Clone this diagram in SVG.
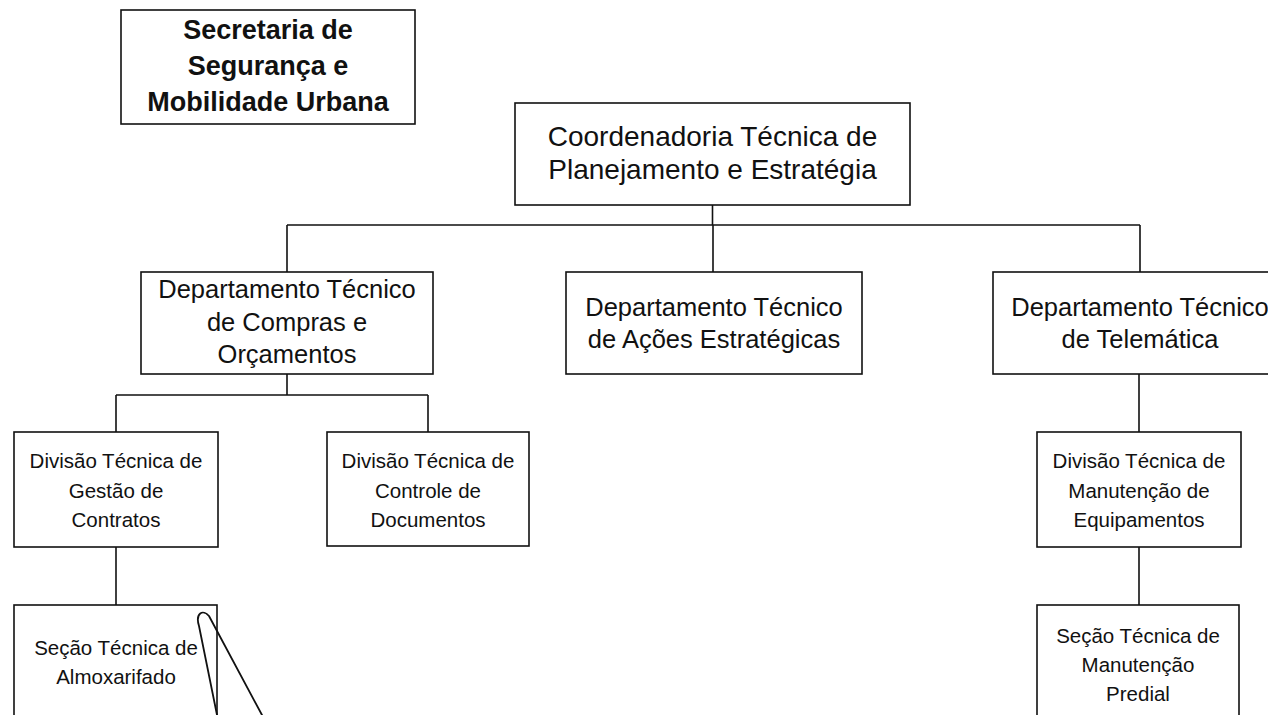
<svg xmlns="http://www.w3.org/2000/svg" width="1268" height="715" viewBox="0 0 1268 715">
<style>
.box{fill:#fff;stroke:#111;stroke-width:1.6}
.t{font-family:"Liberation Sans",Arial,sans-serif;fill:#111;text-anchor:middle}
.sec{font-size:27px;font-weight:bold}
.co{font-size:28px}
.dp{font-size:25.5px}
.dv{font-size:20.5px}
.ln{fill:none;stroke:#111;stroke-width:1.6}
.pen{fill:none;stroke:#111;stroke-width:1.8;stroke-linecap:round;stroke-linejoin:round}
</style>
<rect width="1268" height="715" fill="#fff"/>
<g id="connectors" class="ln">
<path d="M712.5 205 V225 M287 225 H1140 M287 225 V272 M713 225 V272 M1140 225 V272"/>
<path d="M287 374 V395 M116 395 H428 M116 395 V432 M428 395 V432"/>
<path d="M116 547 V605"/>
<path d="M1139 374 V432 M1139 547 V605"/>
</g>
<g id="secretaria">
<rect class="box" x="121" y="10" width="294" height="114"/>
<text class="t sec" x="268" y="39">Secretaria de</text>
<text class="t sec" x="268" y="75">Segurança e</text>
<text class="t sec" x="268" y="111">Mobilidade Urbana</text>
</g>
<g id="coordenadoria">
<rect class="box" x="515" y="103" width="395" height="102"/>
<text class="t co" x="712.5" y="146">Coordenadoria Técnica de</text>
<text class="t co" x="712.5" y="179">Planejamento e Estratégia</text>
</g>
<g id="dep-compras">
<rect class="box" x="141" y="272" width="292" height="102"/>
<text class="t dp" x="287" y="298">Departamento Técnico</text>
<text class="t dp" x="287" y="331">de Compras e</text>
<text class="t dp" x="287" y="363">Orçamentos</text>
</g>
<g id="dep-acoes">
<rect class="box" x="566" y="272" width="296" height="102"/>
<text class="t dp" x="714" y="316">Departamento Técnico</text>
<text class="t dp" x="714" y="348">de Ações Estratégicas</text>
</g>
<g id="dep-telematica">
<rect class="box" x="993" y="272" width="294" height="102"/>
<text class="t dp" x="1140" y="316">Departamento Técnico</text>
<text class="t dp" x="1140" y="348">de Telemática</text>
</g>
<g id="div-contratos">
<rect class="box" x="14" y="432" width="204" height="115"/>
<text class="t dv" x="116" y="468">Divisão Técnica de</text>
<text class="t dv" x="116" y="498">Gestão de</text>
<text class="t dv" x="116" y="527">Contratos</text>
</g>
<g id="div-documentos">
<rect class="box" x="327" y="432" width="202" height="114"/>
<text class="t dv" x="428" y="468">Divisão Técnica de</text>
<text class="t dv" x="428" y="498">Controle de</text>
<text class="t dv" x="428" y="527">Documentos</text>
</g>
<g id="div-equipamentos">
<rect class="box" x="1037" y="432" width="204" height="115"/>
<text class="t dv" x="1139" y="468">Divisão Técnica de</text>
<text class="t dv" x="1139" y="498">Manutenção de</text>
<text class="t dv" x="1139" y="527">Equipamentos</text>
</g>
<g id="sec-almoxarifado">
<rect class="box" x="14" y="605" width="203" height="130"/>
<text class="t dv" x="116" y="655">Seção Técnica de</text>
<text class="t dv" x="116" y="684">Almoxarifado</text>
</g>
<g id="sec-predial">
<rect class="box" x="1037" y="605" width="202" height="130"/>
<text class="t dv" x="1138" y="643">Seção Técnica de</text>
<text class="t dv" x="1138" y="672">Manutenção</text>
<text class="t dv" x="1138" y="701">Predial</text>
</g>
<path class="pen" d="M217 715 L199 626 C195 613 203 609 209 616 L262 715"/>
</svg>
